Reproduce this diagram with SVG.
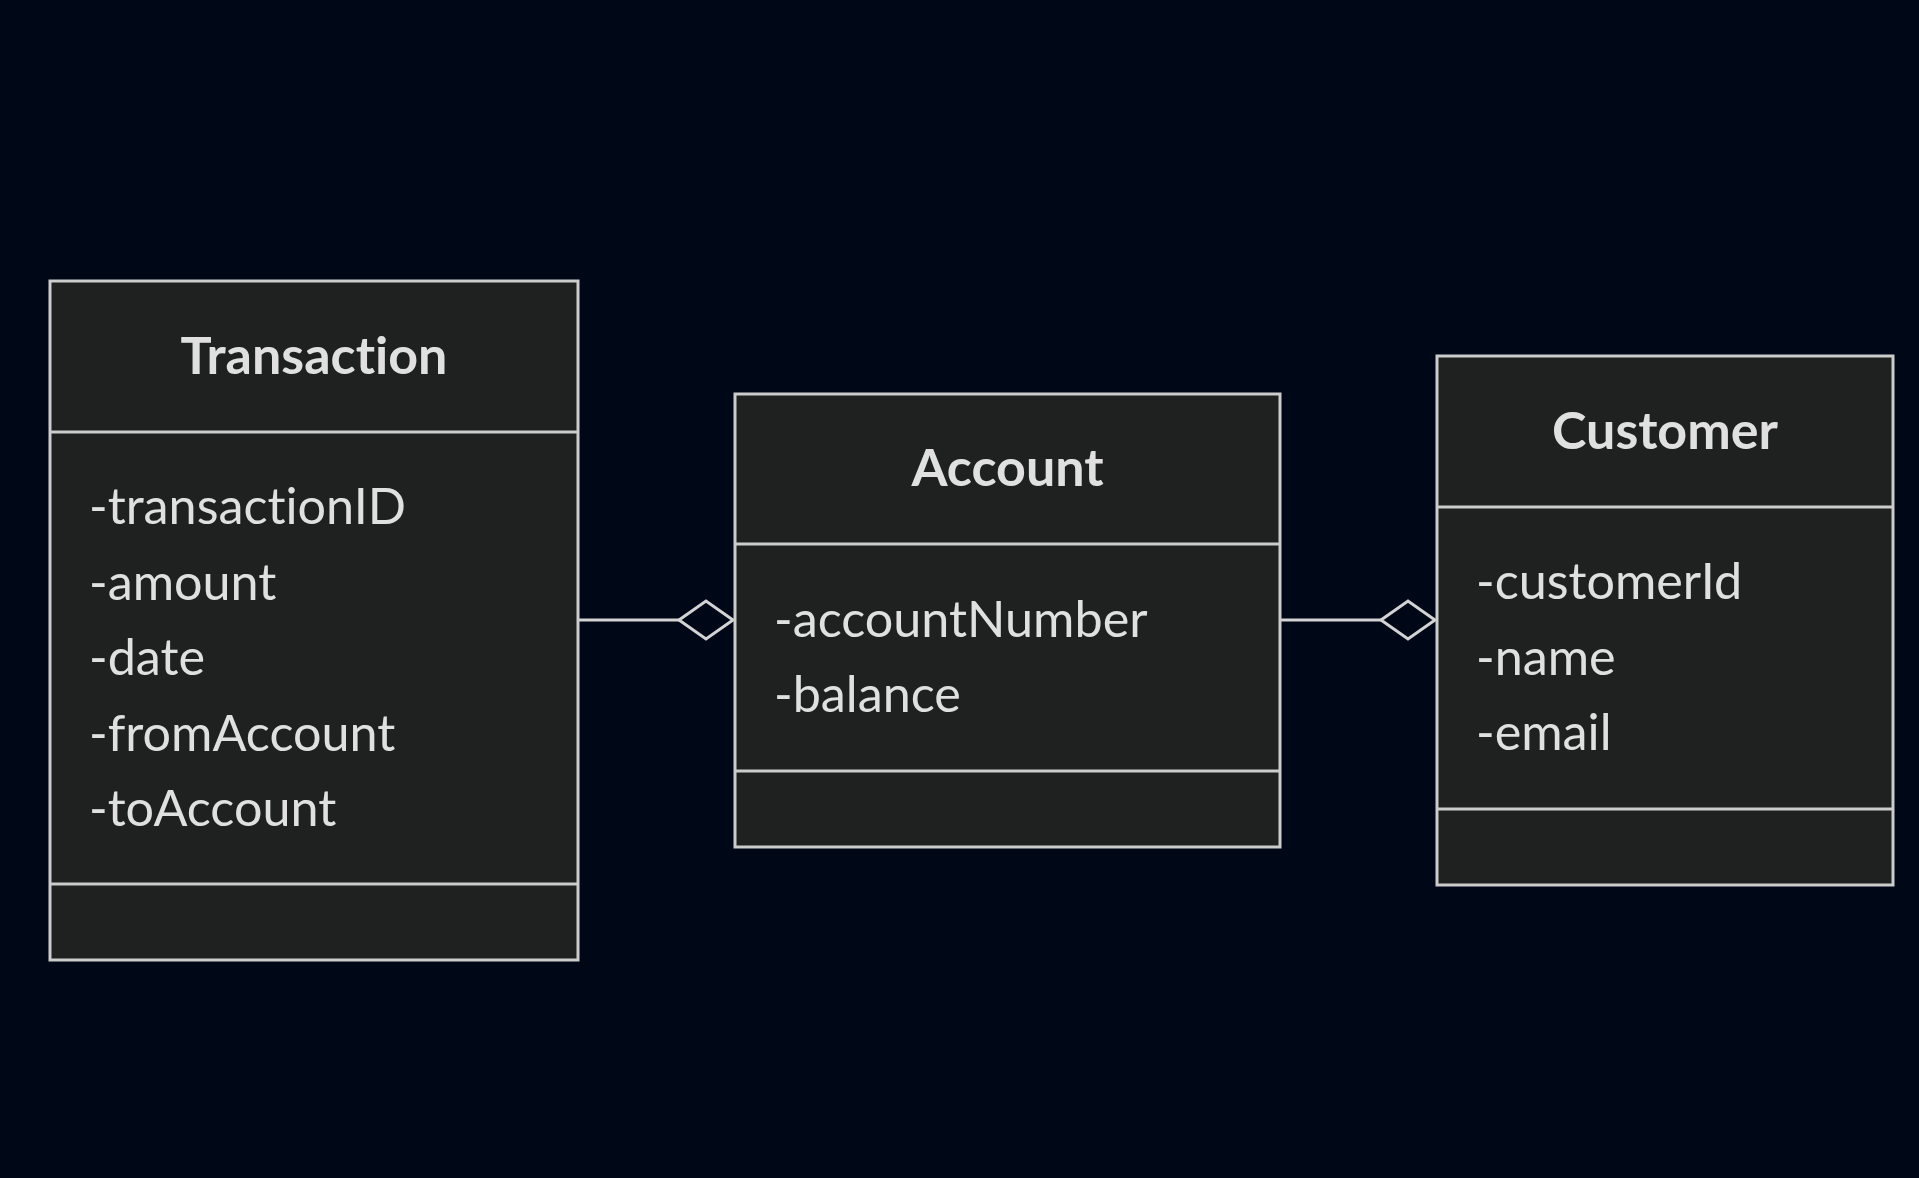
<svg xmlns="http://www.w3.org/2000/svg" width="1919" height="1178" viewBox="0 0 1919 1178">
<style>
.box{fill:#1f2020;stroke:#cccccc;stroke-width:3}
.div{stroke:#cccccc;stroke-width:3}
text{font-variant-ligatures:none;font-feature-settings:"liga" 0}
.title{font-family:Lato,"Liberation Sans",sans-serif;font-weight:bold;font-size:52px;fill:#e0e0e0;text-anchor:middle}
.attr{font-family:Lato,"Liberation Sans",sans-serif;font-size:50.3px;fill:#e0e0e0}
.edge{stroke:#d3d3d3;stroke-width:3;fill:none}
.dia{stroke:#d3d3d3;stroke-width:3;fill:#000818}
</style>
<rect width="1919" height="1178" fill="#000818"/>
<g id="connectors">
<path class="edge" d="M578,620 H679"/>
<path class="dia" d="M679,620 L706,601 L733,620 L706,639 Z"/>
<path class="edge" d="M1280,620 H1381"/>
<path class="dia" d="M1381,620 L1408,601 L1435,620 L1408,639 Z"/>
</g>
<g id="Transaction">
<rect class="box" x="50" y="281" width="528" height="679"/>
<line class="div" x1="50" y1="432" x2="578" y2="432"/>
<line class="div" x1="50" y1="884" x2="578" y2="884"/>
<text class="title" x="314" y="374">Transaction</text>
<text class="attr" x="89" y="524">-transactionID</text>
<text class="attr" x="89" y="599.5">-amount</text>
<text class="attr" x="89" y="675">-date</text>
<text class="attr" x="89" y="750.5">-fromAccount</text>
<text class="attr" x="89" y="826">-toAccount</text>
</g>
<g id="Account">
<rect class="box" x="735" y="394" width="545" height="453"/>
<line class="div" x1="735" y1="544" x2="1280" y2="544"/>
<line class="div" x1="735" y1="771" x2="1280" y2="771"/>
<text class="title" x="1007.5" y="486">Account</text>
<text class="attr" x="774" y="636.5">-accountNumber</text>
<text class="attr" x="774" y="712">-balance</text>
</g>
<g id="Customer">
<rect class="box" x="1437" y="356" width="456" height="529"/>
<line class="div" x1="1437" y1="507" x2="1893" y2="507"/>
<line class="div" x1="1437" y1="809" x2="1893" y2="809"/>
<text class="title" x="1665" y="449">Customer</text>
<text class="attr" x="1476" y="599">-customerId</text>
<text class="attr" x="1476" y="674.5">-name</text>
<text class="attr" x="1476" y="750">-email</text>
</g>
</svg>
